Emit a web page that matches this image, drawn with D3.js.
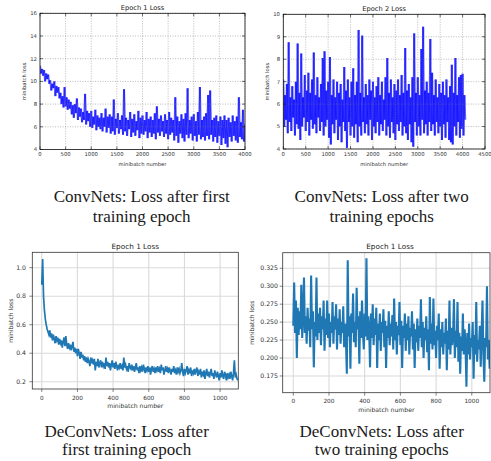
<!DOCTYPE html>
<html>
<head>
<meta charset="utf-8">
<script src="https://cdn.jsdelivr.net/npm/d3@7"></script>
<style>
  body { margin: 0; background: #fff; }
  svg { display: block; }
</style>
</head>
<body>
<script>
// ---- data ----
// ConvNets, epoch 1 (one value every 20 minibatches, 0..4000)
var convE1Step = 20;
var convE1Loss = [
  11.4, 10.7, 11.1, 10.5, 11.0, 10.0, 10.7, 10.2, 10.6, 9.8,
  10.1, 9.2, 9.8, 9.4, 10.0, 8.7, 9.6, 9.0, 9.5, 8.5,
  9.0, 8.0, 8.7, 7.7, 9.5, 7.8, 8.6, 7.5, 8.4, 7.6,
  8.2, 7.1, 7.9, 6.8, 8.0, 7.2, 8.5, 6.6, 7.7, 6.9,
  7.6, 6.4, 7.3, 6.6, 8.9, 6.2, 7.4, 6.5, 7.2, 6.0,
  7.4, 5.9, 6.9, 6.2, 7.5, 5.7, 7.0, 6.0, 6.8, 5.8,
  7.2, 5.6, 6.8, 6.0, 7.6, 5.5, 6.9, 5.9, 7.1, 5.4,
  6.9, 5.6, 8.4, 5.3, 6.7, 5.9, 7.2, 5.4, 6.6, 5.8,
  7.0, 5.3, 9.3, 5.6, 6.8, 5.2, 6.6, 5.8, 7.3, 5.1,
  6.7, 5.5, 7.1, 5.2, 6.5, 5.7, 7.4, 5.0, 6.8, 5.4,
  7.0, 5.3, 6.6, 5.6, 7.3, 5.0, 6.7, 5.5, 6.9, 5.1,
  6.6, 5.4, 7.2, 4.9, 7.8, 5.5, 6.7, 5.2, 7.0, 5.6,
  6.5, 5.1, 7.1, 5.4, 6.6, 4.9, 7.3, 5.3, 6.8, 5.5,
  6.6, 4.8, 8.6, 5.2, 6.9, 4.6, 6.5, 5.4, 7.1, 5.0,
  6.7, 4.7, 7.2, 5.3, 9.4, 5.0, 6.6, 5.4, 6.9, 4.8,
  7.1, 5.2, 6.5, 4.7, 7.3, 5.3, 9.5, 4.9, 6.6, 5.1,
  6.9, 4.8, 7.2, 5.2, 8.8, 4.9, 9.2, 5.3, 6.6, 4.7,
  6.8, 5.1, 7.0, 4.6, 6.5, 5.2, 6.9, 4.4, 6.6, 5.0,
  7.0, 4.5, 6.6, 4.2, 6.8, 5.1, 6.4, 4.7, 7.0, 5.2,
  6.5, 4.8, 6.9, 4.6, 8.6, 5.1, 6.4, 4.9, 7.5, 4.7, 6.2
];

// ConvNets, epoch 2 (every 20 minibatches, 0..4060)
var convE2Step = 20;
var convE2Loss = [
  7.1, 5.0, 6.4, 5.3, 6.9, 4.7, 8.75, 5.2, 6.3, 4.8,
  6.8, 5.4, 6.2, 4.6, 7.0, 5.1, 8.7, 4.9, 6.5, 4.4,
  8.25, 5.0, 6.3, 5.4, 7.3, 4.8, 6.6, 5.2, 7.4, 4.6,
  6.5, 5.3, 7.1, 4.9, 8.3, 5.1, 6.4, 4.7, 7.2, 5.4,
  6.3, 4.8, 6.9, 5.2, 8.05, 4.6, 8.35, 5.0, 6.6, 5.3,
  7.0, 4.5, 8.1, 4.2, 6.4, 5.1, 7.1, 4.7, 6.3, 5.3,
  7.0, 4.4, 6.5, 5.0, 6.9, 4.3, 6.2, 5.2, 7.65, 4.8,
  6.6, 4.05, 7.1, 5.2, 6.3, 4.6, 7.0, 5.0, 7.6, 4.5,
  6.4, 5.1, 7.0, 4.3, 9.3, 5.0, 6.5, 4.6, 9.05, 5.2,
  6.3, 4.7, 6.9, 5.1, 6.4, 4.6, 7.1, 5.3, 6.6, 4.4,
  7.0, 5.0, 6.3, 4.7, 6.8, 5.2, 7.2, 4.6, 6.4, 5.1,
  7.0, 4.8, 6.2, 5.3, 7.2, 4.6, 8.05, 5.0, 6.5, 4.5,
  7.1, 5.2, 6.3, 4.7, 6.9, 4.4, 6.6, 5.1, 7.1, 4.8,
  6.4, 5.2, 7.3, 4.6, 6.5, 5.0, 8.5, 4.7, 6.6, 4.4,
  6.9, 5.1, 6.3, 4.3, 7.2, 4.1, 9.15, 5.2, 6.5, 4.6,
  7.2, 5.0, 6.4, 4.6, 8.45, 5.3, 9.45, 4.7, 6.6, 5.1,
  7.0, 4.6, 6.5, 5.2, 8.9, 4.8, 7.4, 5.1, 6.4, 4.6,
  7.1, 5.2, 6.3, 4.7, 6.9, 5.0, 6.5, 4.4, 7.0, 5.1,
  6.4, 4.5, 7.1, 5.2, 6.3, 4.4, 6.8, 4.3, 7.75, 4.2,
  6.5, 5.0, 8.05, 4.6, 6.4, 5.2, 7.2, 4.5, 7.3, 4.9,
  7.35, 4.6, 6.4, 5.3
];

// DeConvNets, epoch 1 (every 5 minibatches, 0..1100)
var deconvE1Step = 5;
var deconvE1Loss = [
  0.88, 1.06, 0.80, 0.70, 0.64, 0.60, 0.57, 0.55, 0.53, 0.56,
  0.51, 0.54, 0.49, 0.53, 0.50, 0.47, 0.52, 0.49, 0.51, 0.46,
  0.50, 0.47, 0.49, 0.44, 0.48, 0.51, 0.45, 0.52, 0.46, 0.43,
  0.47, 0.44, 0.46, 0.42, 0.45, 0.48, 0.41, 0.44, 0.40, 0.43,
  0.38, 0.43, 0.40, 0.36, 0.41, 0.37, 0.39, 0.35, 0.38, 0.34,
  0.37, 0.33, 0.36, 0.34, 0.31, 0.37, 0.33, 0.35, 0.32, 0.36,
  0.28, 0.34, 0.31, 0.36, 0.30, 0.33, 0.35, 0.30, 0.34, 0.31,
  0.33, 0.29, 0.37, 0.31, 0.34, 0.30, 0.33, 0.28, 0.32, 0.35,
  0.30, 0.33, 0.29, 0.34, 0.31, 0.28, 0.32, 0.30, 0.33, 0.29,
  0.31, 0.28, 0.37, 0.30, 0.32, 0.29, 0.31, 0.27, 0.33, 0.30,
  0.29, 0.32, 0.28, 0.31, 0.27, 0.30, 0.33, 0.28, 0.30, 0.26,
  0.31, 0.28, 0.30, 0.27, 0.32, 0.29, 0.26, 0.30, 0.28, 0.31,
  0.27, 0.30, 0.25, 0.29, 0.31, 0.27, 0.29, 0.26, 0.30, 0.28,
  0.31, 0.27, 0.29, 0.26, 0.32, 0.28, 0.30, 0.25, 0.28, 0.31,
  0.27, 0.29, 0.26, 0.30, 0.28, 0.25, 0.29, 0.27, 0.31, 0.26,
  0.28, 0.25, 0.30, 0.27, 0.29, 0.26, 0.28, 0.33, 0.27, 0.24,
  0.29, 0.26, 0.28, 0.31, 0.25, 0.28, 0.26, 0.30, 0.24, 0.28,
  0.26, 0.29, 0.25, 0.28, 0.30, 0.24, 0.27, 0.25, 0.29, 0.23,
  0.27, 0.25, 0.28, 0.22, 0.26, 0.29, 0.24, 0.27, 0.23, 0.26,
  0.29, 0.24, 0.26, 0.22, 0.28, 0.25, 0.23, 0.27, 0.24, 0.21,
  0.26, 0.23, 0.28, 0.24, 0.22, 0.27, 0.25, 0.21, 0.26, 0.23,
  0.25, 0.22, 0.27, 0.24, 0.21, 0.26, 0.35, 0.23, 0.25, 0.22,
  0.21
];

// DeConvNets, epoch 2 (every 5 minibatches, 0..1100)
var deconvE2Step = 5;
var deconvE2Loss = [
  0.245, 0.305, 0.235, 0.280, 0.200, 0.270, 0.232, 0.265, 0.240, 0.302,
  0.228, 0.260, 0.312, 0.235, 0.258, 0.220, 0.270, 0.238, 0.255, 0.215,
  0.315, 0.240, 0.265, 0.187, 0.250, 0.230, 0.312, 0.225, 0.262, 0.235,
  0.270, 0.218, 0.258, 0.240, 0.280, 0.210, 0.255, 0.232, 0.280, 0.228,
  0.262, 0.215, 0.250, 0.235, 0.278, 0.220, 0.258, 0.240, 0.275, 0.212,
  0.255, 0.232, 0.268, 0.220, 0.250, 0.235, 0.272, 0.215, 0.248, 0.225,
  0.178, 0.336, 0.230, 0.258, 0.185, 0.262, 0.235, 0.290, 0.222, 0.250,
  0.215, 0.298, 0.240, 0.258, 0.192, 0.265, 0.228, 0.280, 0.238, 0.212,
  0.262, 0.230, 0.339, 0.225, 0.258, 0.240, 0.187, 0.262, 0.228, 0.275,
  0.218, 0.255, 0.232, 0.270, 0.186, 0.248, 0.225, 0.262, 0.210, 0.250,
  0.235, 0.268, 0.215, 0.252, 0.186, 0.245, 0.228, 0.265, 0.218, 0.248,
  0.230, 0.260, 0.212, 0.283, 0.225, 0.250, 0.205, 0.245, 0.232, 0.278,
  0.218, 0.252, 0.186, 0.245, 0.228, 0.262, 0.210, 0.248, 0.225, 0.258,
  0.205, 0.242, 0.230, 0.265, 0.212, 0.248, 0.186, 0.240, 0.222, 0.255,
  0.210, 0.245, 0.228, 0.282, 0.215, 0.250, 0.200, 0.242, 0.225, 0.258,
  0.208, 0.240, 0.183, 0.285, 0.220, 0.248, 0.212, 0.283, 0.218, 0.238,
  0.200, 0.245, 0.225, 0.262, 0.185, 0.240, 0.215, 0.250, 0.205, 0.235,
  0.220, 0.255, 0.183, 0.238, 0.212, 0.280, 0.205, 0.242, 0.218, 0.232,
  0.282, 0.200, 0.238, 0.215, 0.278, 0.195, 0.235, 0.178, 0.230, 0.210,
  0.262, 0.205, 0.240, 0.215, 0.160, 0.235, 0.205, 0.248, 0.198, 0.228,
  0.215, 0.250, 0.171, 0.232, 0.205, 0.278, 0.195, 0.225, 0.212, 0.245,
  0.188, 0.235, 0.280, 0.205, 0.167, 0.228, 0.215, 0.300, 0.198, 0.225,
  0.185
];

// tick values
var convE1XTicks = [0, 500, 1000, 1500, 2000, 2500, 3000, 3500, 4000];
var convE1YTicks = [4, 6, 8, 10, 12, 14, 16];
var convE2XTicks = [0, 500, 1000, 1500, 2000, 2500, 3000, 3500, 4000, 4500];
var convE2YTicks = [4, 5, 6, 7, 8, 9, 10];
var deconvXTicks = [0, 200, 400, 600, 800, 1000];
var deconvE1YTicks = [0.2, 0.4, 0.6, 0.8, 1.0];
var deconvE2YTicks = [0.175, 0.2, 0.225, 0.25, 0.275, 0.3, 0.325];

var titles = ["Epoch 1 Loss", "Epoch 2 Loss", "Epoch 1 Loss", "Epoch 1 Loss"];
var captions = [
  ["ConvNets: Loss after first", "training epoch"],
  ["ConvNets: Loss after two", "training epochs"],
  ["DeConvNets: Loss after", "first training epoch"],
  ["DeConvNets: Loss after", "two training epochs"]
];
var xLabel = "minibatch number";
var yLabel = "minibatch loss";

// ---- drawing ----
var W = 491, H = 461;
var svg = d3.select("body").append("svg").attr("width", W).attr("height", H);
svg.append("rect").attr("width", W).attr("height", H).attr("fill", "#fff");

// old matplotlib look (top row) and newer look (bottom row)
var classic = {
  font: "DejaVu Sans, sans-serif", xTickFont: 5.3, yTickFont: 5.3, labelFont: 5.2, titleFont: 6.7,
  textColor: "#333", frameColor: "#111", frameWidth: 0.8,
  gridColor: "#777", gridWidth: 0.5, gridDash: "1,1.5", gridAbove: true,
  tickLen: -3, mirrorTicks: true, segmented: true,
  lineColor: "#0000ff", lineOpacity: 0.62, lineWidth: 2.0
};
var modern = {
  font: "DejaVu Sans, sans-serif", xTickFont: 5.8, yTickFont: 6.2, labelFont: 6.1, titleFont: 7.3,
  textColor: "#333", frameColor: "#333", frameWidth: 0.8,
  gridColor: "#dadada", gridWidth: 1.1, gridDash: null, gridAbove: false,
  tickLen: 3, mirrorTicks: false, segmented: false,
  lineColor: "#1f77b4", lineOpacity: 1, lineWidth: 1.7
};

var panels = [
  { style: classic, values: convE1Loss, step: convE1Step, title: titles[0],
    left: 40, right: 245, top: 13.3, bottom: 149.5,
    xDomain: [0, 4000], yDomain: [4, 16], xTicks: convE1XTicks, yTicks: convE1YTicks, yFmt: d3.format("d"),
    titleY: 9.5, xTickY: 156.3, xLabelY: 166, yLabelX: 26, yTickX: 37 },
  { style: classic, values: convE2Loss, step: convE2Step, title: titles[1],
    left: 283.3, right: 485, top: 14.3, bottom: 149,
    xDomain: [0, 4500], yDomain: [4, 10], xTicks: convE2XTicks, yTicks: convE2YTicks, yFmt: d3.format("d"),
    titleY: 10.5, xTickY: 156, xLabelY: 166, yLabelX: 268.5, yTickX: 280 },
  { style: modern, values: deconvE1Loss, step: deconvE1Step, title: titles[2],
    left: 32.3, right: 238.3, top: 252.3, bottom: 389,
    xDomain: [-53, 1102], yDomain: [0.149, 1.108], xTicks: deconvXTicks, yTicks: deconvE1YTicks, yFmt: d3.format(".1f"),
    titleY: 248.5, xTickY: 399.5, xLabelY: 407.5, yLabelX: 13, yTickX: 26 },
  { style: modern, values: deconvE2Loss, step: deconvE2Step, title: titles[3], lineWidth: 2.1,
    left: 282.7, right: 490, top: 252.7, bottom: 392.7,
    xDomain: [-59.2, 1102], yDomain: [0.1517, 0.3467], xTicks: deconvXTicks, yTicks: deconvE2YTicks, yFmt: d3.format(".3f"),
    titleY: 249, xTickY: 403, xLabelY: 411.5, yLabelX: 254, yTickX: 278, titleX: 390 }
];

panels.forEach(function(p, k) { drawPanel(p, k); });

function drawPanel(p, k) {
  var s = p.style;
  var lw = p.lineWidth || s.lineWidth;
  var x = d3.scaleLinear().domain(p.xDomain).range([p.left, p.right]);
  var y = d3.scaleLinear().domain(p.yDomain).range([p.bottom, p.top]);
  var g = svg.append("g");

  g.append("clipPath").attr("id", "clip" + k)
    .append("rect")
    .attr("x", p.left).attr("y", p.top)
    .attr("width", p.right - p.left).attr("height", p.bottom - p.top);

  function drawGrid() {
    var grid = g.append("g");
    grid.selectAll("line.gx").data(p.xTicks).enter().append("line")
      .attr("x1", function(d) { return x(d); }).attr("x2", function(d) { return x(d); })
      .attr("y1", p.top).attr("y2", p.bottom);
    grid.selectAll("line.gy").data(p.yTicks).enter().append("line")
      .attr("y1", function(d) { return y(d); }).attr("y2", function(d) { return y(d); })
      .attr("x1", p.left).attr("x2", p.right);
    grid.selectAll("line")
      .attr("stroke", s.gridColor)
      .attr("stroke-width", s.gridWidth)
      .attr("stroke-dasharray", s.gridDash);
  }

  if (!s.gridAbove) drawGrid();

  var plot = g.append("g").attr("clip-path", "url(#clip" + k + ")");

  if (s.segmented) {
    // one segment per step so the transparent strokes pile up like matplotlib's alpha line
    var segs = d3.pairs(p.values.map(function(v, i) { return [i * p.step, v]; }));
    plot.selectAll("line.seg").data(segs).enter().append("line")
      .attr("x1", function(d) { return x(d[0][0]); })
      .attr("y1", function(d) { return y(d[0][1]); })
      .attr("x2", function(d) { return x(d[1][0]); })
      .attr("y2", function(d) { return y(d[1][1]); })
      .attr("stroke", s.lineColor)
      .attr("stroke-opacity", s.lineOpacity)
      .attr("stroke-width", lw);
  } else {
    var line = d3.line()
      .x(function(d, i) { return x(i * p.step); })
      .y(function(d) { return y(d); });
    plot.append("path")
      .datum(p.values)
      .attr("fill", "none")
      .attr("stroke", s.lineColor)
      .attr("stroke-opacity", s.lineOpacity)
      .attr("stroke-width", lw)
      .attr("stroke-linejoin", "miter")
      .attr("d", line);
  }

  if (s.gridAbove) drawGrid();

  // frame
  g.append("rect")
    .attr("x", p.left).attr("y", p.top)
    .attr("width", p.right - p.left).attr("height", p.bottom - p.top)
    .attr("fill", "none")
    .attr("stroke", s.frameColor)
    .attr("stroke-width", s.frameWidth);

  // tick marks (negative length = inside, classic style)
  var ticks = g.append("g").attr("stroke", s.frameColor).attr("stroke-width", 0.6);
  p.xTicks.forEach(function(t) {
    ticks.append("line").attr("x1", x(t)).attr("x2", x(t))
      .attr("y1", p.bottom).attr("y2", p.bottom + s.tickLen);
    if (s.mirrorTicks) ticks.append("line").attr("x1", x(t)).attr("x2", x(t))
      .attr("y1", p.top).attr("y2", p.top - s.tickLen);
  });
  p.yTicks.forEach(function(t) {
    ticks.append("line").attr("y1", y(t)).attr("y2", y(t))
      .attr("x1", p.left).attr("x2", p.left - s.tickLen);
    if (s.mirrorTicks) ticks.append("line").attr("y1", y(t)).attr("y2", y(t))
      .attr("x1", p.right).attr("x2", p.right + s.tickLen);
  });

  // tick labels
  g.selectAll("text.xt").data(p.xTicks).enter().append("text")
    .attr("x", function(d) { return x(d); })
    .attr("y", p.xTickY)
    .attr("text-anchor", "middle")
    .attr("font-family", s.font).attr("font-size", s.xTickFont).attr("fill", s.textColor)
    .text(function(d) { return d; });

  g.selectAll("text.yt").data(p.yTicks).enter().append("text")
    .attr("x", p.yTickX)
    .attr("y", function(d) { return y(d); })
    .attr("dy", "0.35em")
    .attr("text-anchor", "end")
    .attr("font-family", s.font).attr("font-size", s.yTickFont).attr("fill", s.textColor)
    .text(function(d) { return p.yFmt(d); });

  // axis labels
  g.append("text")
    .attr("x", (p.left + p.right) / 2).attr("y", p.xLabelY)
    .attr("text-anchor", "middle")
    .attr("font-family", s.font).attr("font-size", s.labelFont).attr("fill", s.textColor)
    .text(xLabel);

  g.append("text")
    .attr("transform", "translate(" + p.yLabelX + "," + ((p.top + p.bottom) / 2) + ") rotate(-90)")
    .attr("text-anchor", "middle")
    .attr("font-family", s.font).attr("font-size", s.labelFont).attr("fill", s.textColor)
    .text(yLabel);

  // title
  g.append("text")
    .attr("x", p.titleX || (p.left + p.right) / 2).attr("y", p.titleY)
    .attr("text-anchor", "middle")
    .attr("font-family", s.font).attr("font-size", s.titleFont).attr("fill", "#222")
    .text(p.title);
}

// captions under each chart
var captionPos = [
  { x: 141.7, y: [201.5, 222] },
  { x: 381.7, y: [201.5, 222] },
  { x: 126.7, y: [436.7, 454.5] },
  { x: 381.7, y: [436.7, 454.5] }
];

captions.forEach(function(lines, k) {
  var t = svg.append("text")
    .attr("text-anchor", "middle")
    .attr("font-family", "Liberation Serif, Times New Roman, serif")
    .attr("font-size", 17)
    .attr("fill", "#1a1a1a");
  lines.forEach(function(l, j) {
    t.append("tspan").attr("x", captionPos[k].x).attr("y", captionPos[k].y[j]).text(l);
  });
});
</script>
</body>
</html>
